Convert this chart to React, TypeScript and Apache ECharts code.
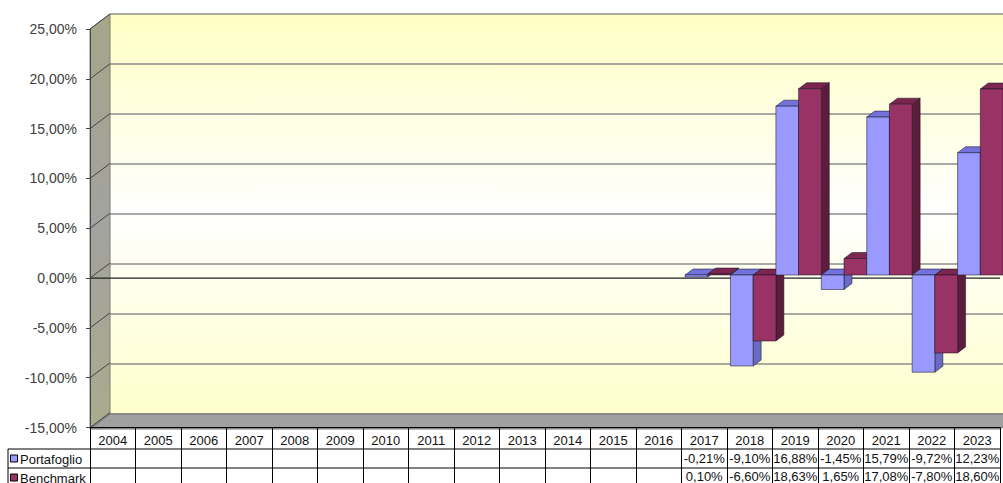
import React, { useEffect, useRef } from 'react';
import * as echarts from 'echarts';

const YEARS = ['2004', '2005', '2006', '2007', '2008', '2009', '2010', '2011', '2012', '2013', '2014', '2015', '2016', '2017', '2018', '2019', '2020', '2021', '2022', '2023'];
const PORTAFOGLIO: (number | null)[] = [null, null, null, null, null, null, null, null, null, null, null, null, null, -0.21, -9.10, 16.88, -1.45, 15.79, -9.72, 12.23];
const BENCHMARK: (number | null)[] = [null, null, null, null, null, null, null, null, null, null, null, null, null, 0.10, -6.60, 18.63, 1.65, 17.08, -7.80, 18.60];
const SERIES_NAMES = ['Portafoglio', 'Benchmark'];
const Y_TICKS = [-15, -10, -5, 0, 5, 10, 15, 20, 25];
const Y_MIN = -15;
const Y_MAX = 25;
const Y_STEP = 5;

const FONT = '"Liberation Sans", Arial, sans-serif';

// layout
const FRONT = { left: 90, top: 29, width: 910, height: 400 };
const BACK = { left: 110, top: 14, width: 930, height: 400 };
const BARS = { left: 94.5, top: 25, width: 910, height: 400 };
const WALL_DX = 20;
const WALL_DY = 15;
const BAR_DX = 8;
const BAR_DY = 6;
const ROW_H = 19;
const TABLE_LEFT = 8;

const FACE = [
  { front: '#9999FF', top: '#7272DA', side: '#6A6AC4' },
  { front: '#993366', top: '#7A2650', side: '#5E1C3C' },
];

const fmt = (v: number | null | undefined) =>
  v == null ? '' : v.toFixed(2).replace('.', ',') + '%';

export default function App() {
  const ref = useRef<HTMLDivElement>(null);

  useEffect(() => {
    if (!ref.current) return;
    const chart = echarts.init(ref.current, null, { renderer: 'svg' });

    const frontBottom = FRONT.top + FRONT.height;
    const frontRight = FRONT.left + FRONT.width;
    const backBottom = BACK.top + BACK.height;
    const row1 = frontBottom + ROW_H + 1;
    const row2 = row1 + ROW_H;

    const barData = YEARS.map((_, i) => [i, PORTAFOGLIO[i], BENCHMARK[i]]).filter(
      (d) => d[1] != null || d[2] != null
    );

    const option: any = {
      animation: false,
      backgroundColor: '#ffffff',
      textStyle: { fontFamily: FONT },
      grid: [
        { left: FRONT.left, top: FRONT.top, width: FRONT.width, height: FRONT.height, show: false },
        {
          left: BACK.left,
          top: BACK.top,
          width: BACK.width,
          height: BACK.height,
          show: true,
          borderWidth: 0,
          backgroundColor: new echarts.graphic.LinearGradient(0, 0, 0, 1, [
            { offset: 0, color: '#FFFFC4' },
            { offset: 0.5, color: '#FFFFFF' },
            { offset: 1, color: '#FFFFCC' },
          ]),
        },
        { left: BARS.left, top: BARS.top, width: BARS.width, height: BARS.height, show: false },
      ],
      xAxis: [
        {
          gridIndex: 0,
          type: 'category',
          data: YEARS,
          position: 'bottom',
          z: 6,
          axisLine: { show: true, onZero: false, lineStyle: { color: '#000', width: 1 } },
          axisTick: { show: true, interval: 0, length: 60, lineStyle: { color: '#000', width: 1 } },
          axisLabel: {
            interval: 0,
            margin: 13,
            verticalAlign: 'middle',
            fontSize: 13,
            color: '#111',
            fontFamily: FONT,
          },
          splitLine: { show: false },
        },
        {
          gridIndex: 0,
          type: 'category',
          data: YEARS,
          position: 'bottom',
          offset: ROW_H,
          z: 6,
          axisLine: { show: false, onZero: false },
          axisTick: { show: false },
          axisLabel: {
            interval: 0,
            margin: 12,
            verticalAlign: 'middle',
            fontSize: 13,
            color: '#111',
            fontFamily: FONT,
            formatter: (_v: string, idx: number) => fmt(PORTAFOGLIO[idx]),
          },
        },
        {
          gridIndex: 0,
          type: 'category',
          data: YEARS,
          position: 'bottom',
          offset: ROW_H * 2,
          z: 6,
          axisLine: { show: false, onZero: false },
          axisTick: { show: false },
          axisLabel: {
            interval: 0,
            margin: 11,
            verticalAlign: 'middle',
            fontSize: 13,
            color: '#111',
            fontFamily: FONT,
            formatter: (_v: string, idx: number) => fmt(BENCHMARK[idx]),
          },
        },
        { gridIndex: 1, type: 'value', show: false, min: 0, max: 1 },
        { gridIndex: 2, type: 'category', data: YEARS, show: false },
      ],
      yAxis: [
        {
          gridIndex: 0,
          type: 'value',
          min: Y_MIN,
          max: Y_MAX,
          interval: Y_STEP,
          z: 6,
          axisLine: { show: true, onZero: false, lineStyle: { color: '#444', width: 1 } },
          axisTick: { show: true, length: 4, lineStyle: { color: '#444' } },
          splitLine: { show: false },
          axisLabel: {
            margin: 13,
            fontSize: 14,
            color: '#404040',
            fontFamily: FONT,
            formatter: (v: number) => fmt(v),
          },
        },
        {
          gridIndex: 1,
          type: 'value',
          min: Y_MIN,
          max: Y_MAX,
          interval: Y_STEP,
          axisLine: { show: false },
          axisTick: { show: false },
          axisLabel: { show: false },
          splitLine: { show: true, lineStyle: { color: '#8C8C8C', width: 1.5 } },
        },
        { gridIndex: 2, type: 'value', min: Y_MIN, max: Y_MAX, interval: Y_STEP, show: false },
      ],
      graphic: [
        {
          type: 'polygon',
          z: 1,
          shape: {
            points: [
              [FRONT.left, FRONT.top],
              [FRONT.left + WALL_DX, FRONT.top - WALL_DY],
              [FRONT.left + WALL_DX, frontBottom - WALL_DY],
              [FRONT.left, frontBottom],
            ],
          },
          style: {
            fill: new echarts.graphic.LinearGradient(0, 0, 0, 1, [
              { offset: 0, color: '#A6A68A' },
              { offset: 0.5, color: '#A2A2A0' },
              { offset: 1, color: '#ABAB8E' },
            ]),
            stroke: '#7E7E70',
            lineWidth: 1,
          },
        },
        {
          type: 'polygon',
          z: 1,
          shape: {
            points: [
              [FRONT.left, frontBottom],
              [FRONT.left + WALL_DX, backBottom],
              [frontRight + WALL_DX, backBottom],
              [frontRight, frontBottom],
            ],
          },
          style: { fill: '#A0A0A0', stroke: '#6E6E6E', lineWidth: 1 },
        },
        {
          type: 'line',
          z: 10,
          shape: { x1: TABLE_LEFT, y1: row1, x2: frontRight, y2: row1 },
          style: { stroke: '#000', lineWidth: 1 },
        },
        {
          type: 'line',
          z: 10,
          shape: { x1: TABLE_LEFT, y1: row2, x2: frontRight, y2: row2 },
          style: { stroke: '#000', lineWidth: 1 },
        },
        {
          type: 'line',
          z: 10,
          shape: { x1: TABLE_LEFT, y1: row1, x2: TABLE_LEFT, y2: row2 + ROW_H + 5 },
          style: { stroke: '#000', lineWidth: 1 },
        },
        ...SERIES_NAMES.flatMap((name, s) => {
          const cy = row1 + ROW_H * s + ROW_H / 2;
          return [
            {
              type: 'rect',
              z: 10,
              shape: { x: TABLE_LEFT + 2.5, y: cy - 3.5, width: 7, height: 7 },
              style: { fill: FACE[s].front, stroke: '#000', lineWidth: 1 },
            },
            {
              type: 'text',
              z: 10,
              x: TABLE_LEFT + 12,
              y: cy + 0.5,
              style: {
                text: name,
                fontSize: 13,
                fontFamily: FONT,
                fill: '#111',
                verticalAlign: 'middle',
                align: 'left',
              },
            },
          ];
        }),
      ],
      series: [
        {
          type: 'custom',
          name: 'frame',
          xAxisIndex: 0,
          yAxisIndex: 0,
          z: 3,
          silent: true,
          data: Y_TICKS.map((v) => [0, v]),
          renderItem: (params: any, api: any) => {
            const v = api.value(1);
            const y = api.coord([0, v])[1];
            const x0 = params.coordSys.x;
            const children: any[] = [
              {
                type: 'line',
                shape: { x1: x0, y1: y, x2: x0 + WALL_DX, y2: y - WALL_DY },
                style: { stroke: '#444', lineWidth: 1 },
              },
            ];
            if (v === 0) {
              children.push({
                type: 'line',
                shape: { x1: x0, y1: y, x2: x0 + params.coordSys.width, y2: y },
                style: { stroke: '#222', lineWidth: 1.2 },
              });
            }
            return { type: 'group', children };
          },
        },
        {
          type: 'custom',
          name: 'bars',
          xAxisIndex: 4,
          yAxisIndex: 2,
          z: 5,
          data: barData,
          encode: { x: 0, y: [1, 2] },
          renderItem: (_params: any, api: any) => {
            const i = api.value(0);
            const band = api.size([1, 0])[0];
            const bw = band / 2;
            const base = api.coord([i, 0]);
            const y0 = base[1];
            const left = base[0] - band / 2;
            const children: any[] = [];
            [1, 2].forEach((dim, s) => {
              const v = api.value(dim);
              if (v == null || !isFinite(v)) return;
              const yv = api.coord([i, v])[1];
              const x = left + s * bw;
              const yTop = Math.min(y0, yv);
              const yBot = Math.max(y0, yv);
              const c = FACE[s];
              const edge = { stroke: 'rgba(20,20,30,0.75)', lineWidth: 0.7 };
              children.push({
                type: 'polygon',
                shape: {
                  points: [
                    [x + bw, yTop],
                    [x + bw + BAR_DX, yTop - BAR_DY],
                    [x + bw + BAR_DX, yBot - BAR_DY],
                    [x + bw, yBot],
                  ],
                },
                style: { fill: c.side, ...edge },
              });
              children.push({
                type: 'polygon',
                shape: {
                  points: [
                    [x, yTop],
                    [x + BAR_DX, yTop - BAR_DY],
                    [x + bw + BAR_DX, yTop - BAR_DY],
                    [x + bw, yTop],
                  ],
                },
                style: { fill: c.top, ...edge },
              });
              children.push({
                type: 'rect',
                shape: { x, y: yTop, width: bw, height: Math.max(yBot - yTop, 0.5) },
                style: { fill: c.front, ...edge },
              });
            });
            return { type: 'group', children };
          },
        },
      ],
    };

    chart.setOption(option);
    return () => chart.dispose();
  }, []);

  return (
    <div
      ref={ref}
      style={{ position: 'fixed', left: 0, top: 0, width: 1003, height: 483, background: '#fff' }}
    />
  );
}
